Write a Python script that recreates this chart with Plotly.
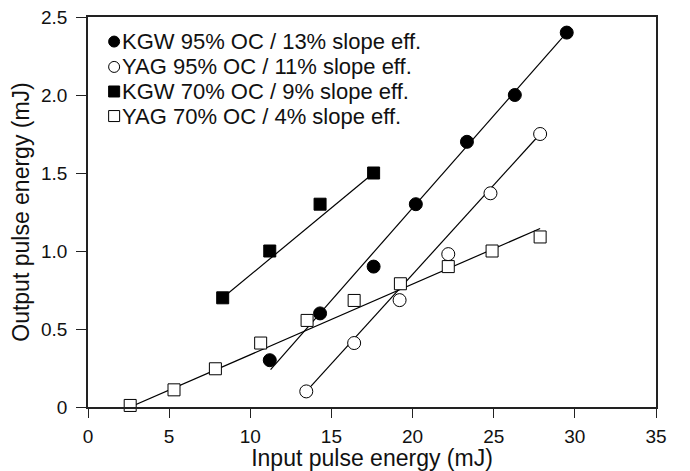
import plotly.graph_objects as go

# measured points
kgw95_x = [11.2, 14.3, 17.6, 20.2, 23.35, 26.3, 29.5]
kgw95_y = [0.30, 0.60, 0.90, 1.30, 1.70, 2.00, 2.40]
yag95_x = [13.45, 16.4, 19.2, 22.2, 24.8, 27.86]
yag95_y = [0.10, 0.41, 0.685, 0.98, 1.37, 1.75]
kgw70_x = [8.3, 11.2, 14.3, 17.6]
kgw70_y = [0.70, 1.00, 1.30, 1.50]
yag70_x = [2.6, 5.3, 7.85, 10.64, 13.5, 16.4, 19.25, 22.2, 24.9, 27.86]
yag70_y = [0.01, 0.11, 0.245, 0.41, 0.555, 0.683, 0.79, 0.90, 1.00, 1.09]

# fitted lines (end points)
kgw95_fit_x = [11.25, 29.5]
kgw95_fit_y = [0.24, 2.40]
yag95_fit_x = [13.45, 27.86]
yag95_fit_y = [0.10, 1.75]
kgw70_fit_x = [8.3, 17.6]
kgw70_fit_y = [0.70, 1.50]
yag70_fit_x = [2.6, 27.86]
yag70_fit_y = [0.0, 1.144]

names = ['KGW 95% OC / 13% slope eff.', 'YAG 95% OC / 11% slope eff.',
         'KGW 70% OC / 9% slope eff.', 'YAG 70% OC / 4% slope eff.']

x_ticks = [0, 5, 10, 15, 20, 25, 30, 35]
y_ticks = [0, 0.5, 1.0, 1.5, 2.0, 2.5]
y_ticktext = ['0', '0.5', '1.0', '1.5', '2.0', '2.5']

fig = go.Figure()

# fit lines first so markers sit on top
for fx, fy in [(kgw95_fit_x, kgw95_fit_y), (yag95_fit_x, yag95_fit_y),
               (kgw70_fit_x, kgw70_fit_y), (yag70_fit_x, yag70_fit_y)]:
    fig.add_trace(go.Scatter(x=fx, y=fy, mode='lines', line=dict(color='black', width=1.2),
                             showlegend=False, hoverinfo='skip'))

series = [
    (kgw95_x, kgw95_y, names[0], 'circle', 'black', 13),
    (yag95_x, yag95_y, names[1], 'circle', 'white', 13),
    (kgw70_x, kgw70_y, names[2], 'square', 'black', 12),
    (yag70_x, yag70_y, names[3], 'square', 'white', 12),
]
for sx, sy, nm, sym, fill, sz in series:
    fig.add_trace(go.Scatter(x=sx, y=sy, mode='markers', name=nm, cliponaxis=False,
                             showlegend=False,
                             marker=dict(symbol=sym, color=fill, size=sz,
                                         line=dict(color='black', width=1))))

# legend drawn by hand so the rows sit as tight as in the original
leg_rows = [0.937, 0.872, 0.809, 0.746]
for (sx, sy, nm, sym, fill, sz), ly in zip(series, leg_rows):
    fig.add_shape(type='circle' if sym == 'circle' else 'rect', xref='paper', yref='paper',
                  xsizemode='pixel', ysizemode='pixel', xanchor=0.046, yanchor=ly,
                  x0=-5.5, x1=5.5, y0=-5.5, y1=5.5,
                  fillcolor=fill, line=dict(color='black', width=1))
    fig.add_annotation(x=0.057, y=ly, xref='paper', yref='paper', text=nm, showarrow=False,
                       xanchor='left', yanchor='middle', font=dict(size=22))

fig.update_xaxes(range=[0, 35], tickvals=x_ticks, ticks='outside', ticklen=9, tickwidth=1,
                 tickcolor='#222', showline=True, linecolor='#222', linewidth=1.5, mirror=True,
                 showgrid=False, zeroline=False, automargin=False, ticklabelstandoff=2,
                 ticklabeloverflow='allow',
                 title=dict(text='Input pulse energy (mJ)', standoff=7))
fig.update_yaxes(range=[0, 2.5], tickvals=y_ticks, ticktext=y_ticktext, ticks='outside',
                 ticklen=10, tickwidth=1, tickcolor='#222', showline=True, linecolor='#222',
                 linewidth=1.5, mirror=True, showgrid=False, zeroline=False, automargin=False,
                 ticklabelstandoff=5, ticklabeloverflow='allow',
                 title=dict(text='Output pulse energy (mJ)', standoff=6))

# page body has an 8px margin, so the figure is 8px smaller than the window
fig.update_layout(
    width=682, height=463,
    margin=dict(l=80, r=34, t=9, b=64),
    plot_bgcolor='white', paper_bgcolor='white',
    font=dict(family='Liberation Sans, Arial, sans-serif', size=19, color='#111'),
    showlegend=False,
)

fig.write_html('out.html')
